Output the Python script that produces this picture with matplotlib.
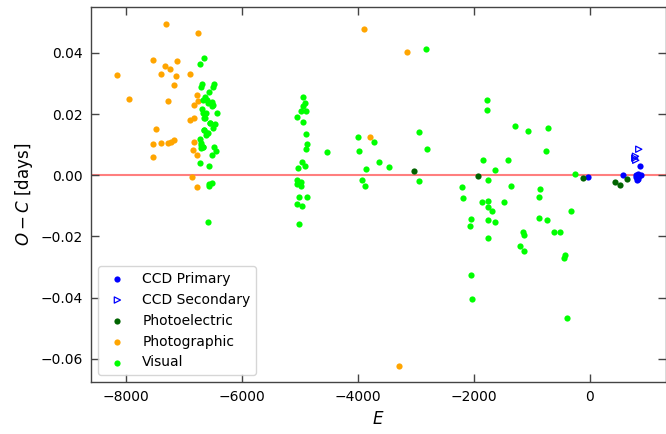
import matplotlib
matplotlib.use("Agg")
import matplotlib.pyplot as plt
import numpy as np

# ---- data ----
ccd_pri_E = [-29, 574, 874, 845, 805, 885, 798, 822, 835, 860]
ccd_pri_OC = [-0.0006, 0.0000, 0.0030, 0.0003, 0.0001, 0.0002, -0.0006, -0.0014, -0.0011, -0.0004]

ccd_sec_E = [850, 781, 798, 793]
ccd_sec_OC = [0.0085, 0.0056, 0.0049, 0.0062]

pe_E = [-3029, -1926, -116, 443, 517, 655]
pe_OC = [0.0014, -0.0004, -0.0009, -0.0022, -0.0031, -0.0012]

pg_E = [-7316, -6770, -8161, -7546, -7333, -7126, -7247, -7402, -7150, -6908,
        -7184, -7954, -7276, -6776, -6839, -6759, -6902, -6839, -7495, -7540,
        -7397, -7276, -7236, -7172, -6828, -6850, -6776, -7546, -6862, -6776,
        -3902, -3149, -3793, -3293]
pg_OC = [0.0494, 0.0466, 0.0329, 0.0377, 0.0358, 0.0372, 0.0346, 0.0332, 0.0323, 0.0330,
         0.0295, 0.0249, 0.0243, 0.0263, 0.0230, 0.0244, 0.0181, 0.0186, 0.0152, 0.0101,
         0.0106, 0.0106, 0.0108, 0.0116, 0.0109, 0.0083, 0.0066, 0.0060, -0.0007, -0.0039,
         0.0478, 0.0402, 0.0124, -0.0625]

vis_E = [-6655, -6730, -6701, -6707, -6488, -6500, -6564, -6638, -6672, -6529,
         -6495, -6581, -6701, -6436, -6632, -6655, -6552, -6471, -6505, -6655,
         -6581, -6626, -6724, -6718, -6672, -6707, -6478, -6448, -6522, -6724,
         -6569, -6564, -6574, -6517, -6592, -6615, -6540, -6512, -6684, -6643,
         -6557, -6650, -6615, -6713, -6678,
         -4954, -4914, -4948, -4977, -4897, -5046, -4943, -4891, -4885, -4902,
         -4540, -4960, -5040, -4908, -5046, -4988, -5057, -4977, -5017, -5023,
         -4874, -5046, -4971, -5023,
         -4006, -3983, -3718, -3643, -3460, -3862, -3925, -3874, -2943, -2943,
         -2828, -2799, -2201, -2184, -2064, -2052, -2034,
         -1770, -1770, -1287, -1069, -719, -759, -1845, -1414, -1626, -1747,
         -247, -1362, -850, -879, -1857, -1753, -1753, -1690, -1483, -328,
         -2046, -1753, -1626, -867, -729, -1155, -1138, -609, -512, -1753,
         -1195, -1138, -431, -443, -391]
vis_OC = [0.0383, 0.0364, 0.0298, 0.0290, 0.0298, 0.0290, 0.0272, 0.0255, 0.0246, 0.0238,
          0.0230, 0.0235, 0.0216, 0.0203, 0.0202, 0.0186, 0.0172, 0.0167, 0.0154, 0.0148,
          0.0139, 0.0133, 0.0120, 0.0098, 0.0093, 0.0090, 0.0091, 0.0080, 0.0065, 0.0040,
          0.0030, -0.0030, -0.0035, -0.0025, -0.0152, 0.0246, 0.0235, 0.0226, 0.0205, 0.0186,
          0.0170, 0.0148, 0.0137, 0.0104, 0.0093,
          0.0257, 0.0235, 0.0227, 0.0210, 0.0210, 0.0190, 0.0175, 0.0136, 0.0101, 0.0086,
          0.0077, 0.0043, 0.0024, 0.0030, -0.0016, -0.0022, -0.0029, -0.0035, -0.0025, -0.0071,
          -0.0070, -0.0094, -0.0101, -0.0160,
          0.0124, 0.0080, 0.0108, 0.0043, 0.0027, 0.0019, -0.0014, -0.0034, 0.0141, -0.0020,
          0.0412, 0.0086, -0.0038, -0.0074, -0.0167, -0.0326, -0.0404,
          0.0246, 0.0214, 0.0161, 0.0143, 0.0156, 0.0079, 0.0049, 0.0049, 0.0017, -0.0014,
          0.0003, -0.0036, -0.0046, -0.0071, -0.0086, -0.0084, -0.0104, -0.0118, -0.0089, -0.0117,
          -0.0143, -0.0145, -0.0153, -0.0139, -0.0145, -0.0187, -0.0196, -0.0185, -0.0185, -0.0204,
          -0.0231, -0.0248, -0.0260, -0.0271, -0.0467]

# ---- figure ----
fig = plt.figure(figsize=(6.66, 4.34), dpi=100)
ax = fig.add_axes([91 / 666, 52 / 434, 575 / 666, 375 / 434])

ax.axhline(0, color="red", alpha=0.5, lw=1.5, zorder=1)

s = 20
ax.scatter(ccd_pri_E, ccd_pri_OC, s=s, color="blue", linewidths=0, label="CCD Primary", zorder=3)
ax.scatter(ccd_sec_E, ccd_sec_OC, s=s, marker=">", facecolors="none", edgecolors="blue",
           linewidths=0.9, label="CCD Secondary", zorder=3)
ax.scatter(pe_E, pe_OC, s=s, color="darkgreen", linewidths=0, label="Photoelectric", zorder=3)
ax.scatter(pg_E, pg_OC, s=s, color="orange", linewidths=0, label="Photographic", zorder=2)
ax.scatter(vis_E, vis_OC, s=s, color="lime", linewidths=0, label="Visual", zorder=2)

ax.set_xlim(-8610, 1320)
ax.set_ylim(-0.0676, 0.0550)
ax.set_xticks([-8000, -6000, -4000, -2000, 0])
ax.set_yticks([-0.06, -0.04, -0.02, 0.00, 0.02, 0.04])
ax.set_yticklabels(["\u22120.06", "\u22120.04", "\u22120.02", "0.00", "0.02", "0.04"])

ax.tick_params(direction="in", top=True, right=True, length=6, width=1,
               color="#444444", labelsize=10, pad=6)
for sp in ax.spines.values():
    sp.set_color("#444444")
    sp.set_linewidth(1.0)

ax.set_xlabel(r"$E$", fontsize=12)
ax.set_ylabel(r"$O-C$ [days]", fontsize=12)

ax.legend(loc="lower left", fontsize=10, scatterpoints=1)

fig.savefig("out.png", dpi=100)
